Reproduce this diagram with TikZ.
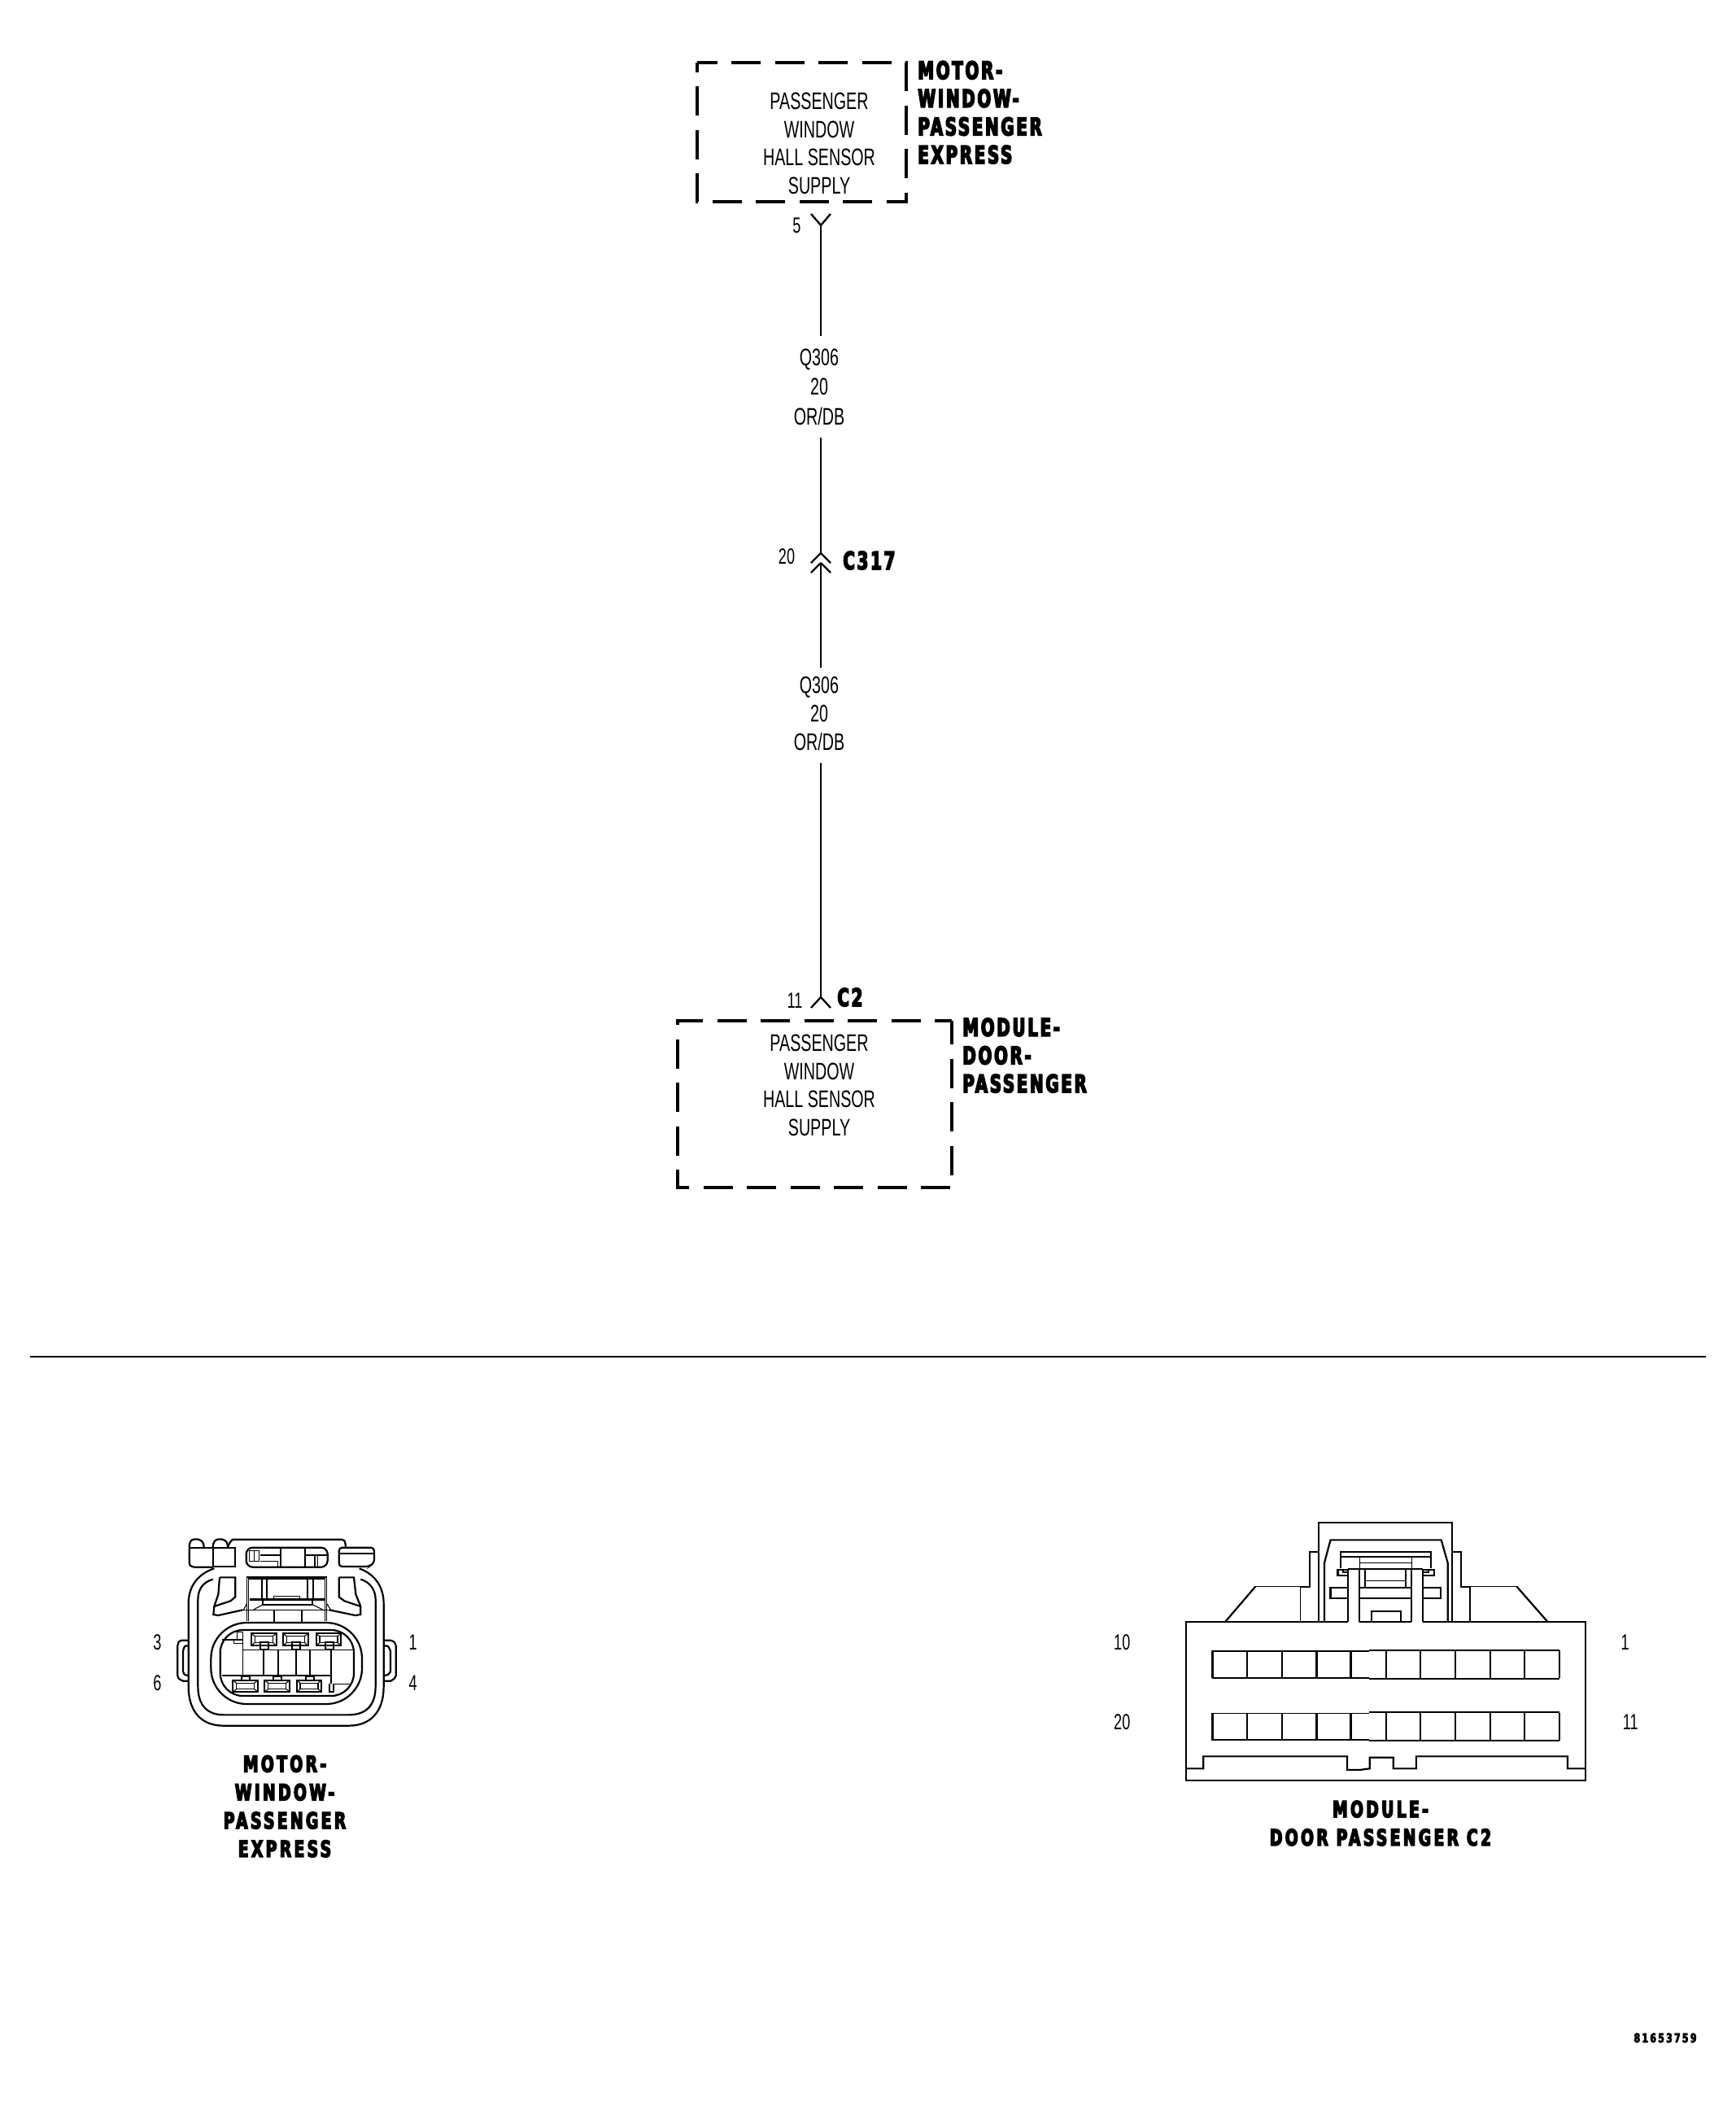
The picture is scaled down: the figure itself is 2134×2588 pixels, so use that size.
\documentclass[tikz,border=0pt]{standalone}
\usepackage{fontspec}
\setmainfont{Liberation Sans}
\newfontfamily\lblfont[FakeStretch=0.67]{Liberation Sans}
\newfontfamily\bldfont[FakeStretch=0.66,LetterSpace=9,FakeBold=5]{DejaVu Sans Bold}
\newfontfamily\ttlfont[FakeStretch=0.68,LetterSpace=12,FakeBold=5]{DejaVu Sans Bold}
\newfontfamily\numfont[FakeStretch=0.72,LetterSpace=15,FakeBold=5]{DejaVu Sans Bold}
\tikzset{
  wire/.style={line width=1.15pt},
  boxdash/.style={line width=1.8pt,dash pattern=on 18pt off 8.75pt},
  lbl/.style={inner sep=0pt,font=\lblfont\fontsize{14.7}{17.25}\selectfont,align=center},
  pin/.style={inner sep=0pt,font=\lblfont\fontsize{13.5}{16}\selectfont},
  bld/.style={inner sep=0pt,font=\bldfont\fontsize{15}{17.3}\selectfont},
  ttl/.style={inner sep=0pt,font=\ttlfont\fontsize{13.8}{17.4}\selectfont,align=center},
  tn/.style={line width=0.55pt},
  geo/.style={line width=1.1pt},
}
\begin{document}
\begin{tikzpicture}[x=0.5pt,y=-0.5pt]
\fill[white] (0,0) rectangle (2134,2588);
\useasboundingbox (0,0) rectangle (2134,2588);

% ---------- upper box
\coordinate (ua) at (857,77);\coordinate (ub) at (1114,77);\coordinate (uc) at (1114,248);\coordinate (ud) at (857,248);
\draw[boxdash,dash phase=5.75pt] (ua) -- (ub) -- (uc) -- (ud) -- (ua);
\node[lbl,anchor=base] (utext) at (1007,238) {PASSENGER\\WINDOW\\HALL SENSOR\\SUPPLY};
\node[bld,anchor=base west,align=left] (ulabel) at (1128,201) {MOTOR-\\WINDOW-\\PASSENGER\\EXPRESS};

% ---------- wires and connectors
\coordinate (p5) at (1009,277);\coordinate (w1e) at (1009,413);
\coordinate (w2s) at (1009,538);\coordinate (c317a) at (1009,680);
\coordinate (c317b) at (1009,692);\coordinate (w3e) at (1009,821);
\coordinate (w4s) at (1009,938);\coordinate (c2p) at (1009,1226);
\draw[wire] (p5) -- (w1e);
\draw[wire] (p5) -- ++(-12,-14);
\draw[wire] (p5) -- ++(12,-14);
\draw[wire] (w2s) -- (c317a);
\draw[wire] (c317a) -- ++(-12,12);
\draw[wire] (c317a) -- ++(12,12);
\draw[wire] (c317b) -- (w3e);
\draw[wire] (c317b) -- ++(-12,12);
\draw[wire] (c317b) -- ++(12,12);
\draw[wire] (w4s) -- (c2p);
\draw[wire] (c2p) -- ++(-12,13);
\draw[wire] (c2p) -- ++(12,13);

\node[pin,anchor=base] (n5) at (979.5,286) {5};
\node[pin,anchor=base] (n20) at (967,693) {20};
\node[pin,anchor=base] (n11) at (977,1239) {11};
\node[bld,anchor=base west] (nc317) at (1036,700) {C317};
\node[bld,anchor=base west] (nc2) at (1029,1237) {C2};
\node[lbl,anchor=base,font=\lblfont\fontsize{14.7}{18.2}\selectfont] (wa) at (1007,522) {Q306\\20\\OR/DB};
\node[lbl,anchor=base,font=\lblfont\fontsize{14.7}{17.5}\selectfont] (wb) at (1007,922) {Q306\\20\\OR/DB};

% ---------- lower box
\coordinate (la) at (833,1255);\coordinate (lb) at (1170,1255);\coordinate (lc) at (1170,1460);\coordinate (ld) at (833,1460);
\draw[boxdash,line width=2.2pt,dash phase=3.5pt] (lb) -- (lc) -- (ld) -- (la) -- (lb);
\node[lbl,anchor=base] (ltext) at (1007,1396) {PASSENGER\\WINDOW\\HALL SENSOR\\SUPPLY};
\node[bld,anchor=base west,align=left] (llabel) at (1183,1343) {MODULE-\\DOOR-\\PASSENGER};

% ---------- divider
\coordinate (da) at (37,1668);\coordinate (db) at (2097,1668);
\draw[line width=1pt] (da) -- (db);

% ---------- connector 1 (coordinates of a 3x crop)
\begin{scope}[shift={(160,1860)},x=0.16667pt,y=-0.16667pt]
 % body
 \draw[geo] (310,205) .. controls (250,225) and (215,270) .. (215,335) -- (215,640) .. controls (215,730) and (260,785) .. (345,785) -- (805,785) .. controls (890,785) and (935,730) .. (935,640) -- (935,335) .. controls (935,270) and (900,225) .. (845,205);
 \draw[geo] (305,245) .. controls (270,255) and (250,280) .. (250,320) -- (250,640) .. controls (250,710) and (285,745) .. (345,745) -- (805,745) .. controls (870,745) and (905,710) .. (905,640) -- (905,320) .. controls (905,285) and (885,255) .. (850,245);
 \draw[geo,rounded corners=22pt] (298,405) rectangle (855,705);
 \draw[geo,rounded corners=14pt] (332,432) rectangle (825,675);
 % side tabs
 \draw[geo] (215,470) -- (190,470) .. controls (178,475) .. (175,490) -- (175,600) .. controls (178,612) .. (195,620) -- (215,620);
 \draw[geo] (215,490) .. controls (200,490) .. (195,510) -- (195,585) .. controls (200,598) .. (215,600);
 \draw[geo] (935,470) -- (960,470) .. controls (975,475) .. (980,490) -- (980,600) .. controls (975,612) .. (960,620) -- (935,620);
 \draw[geo] (935,490) .. controls (952,490) .. (960,510) -- (960,585) .. controls (952,598) .. (935,600);
 % top pieces
 \draw[geo] (218,130) -- (305,130);
 \draw[geo] (218,130) .. controls (218,105) and (225,97) .. (240,97) .. controls (262,97) and (272,105) .. (272,130);
 \draw[geo] (218,130) -- (218,185) .. controls (220,195) .. (235,200) -- (305,200);
 \draw[geo] (305,130) -- (388,130) -- (388,198) -- (305,198) -- cycle;
 \draw[geo] (305,130) .. controls (305,105) and (315,97) .. (328,97) .. controls (350,97) and (360,105) .. (360,125);
 \draw[geo] (360,125) .. controls (370,105) .. (378,98) -- (780,98) .. controls (792,102) .. (795,125);
 \draw[geo,rounded corners=4pt] (428,128) rectangle (728,200);
 \draw[geo] (555,133) -- (555,197); \draw[geo] (645,133) -- (645,197);
 \draw[tn] (440,140) rectangle (475,178); \draw[tn] (458,140) -- (458,178);
 \draw[geo] (480,155) -- (555,155); \draw[tn] (480,178) -- (545,178) -- (545,197);
 \draw[geo] (645,155) -- (725,155); \draw[geo] (682,155) -- (682,197); \draw[tn] (692,155) -- (692,197);
 \draw[geo,rounded corners=2pt] (770,128) -- (900,128) -- (900,185) -- (880,198) -- (770,198) -- cycle;
 \draw[geo] (770,150) -- (900,150);
 % side notches
 \draw[geo] (330,238) -- (388,238) -- (388,310) -- (370,325) -- (310,345) -- (307,375) -- (325,378) -- (415,358);
 \draw[geo] (330,238) -- (325,300) -- (310,345);
 \draw[geo] (770,238) -- (825,238) -- (832,300) -- (850,345) -- (850,375) -- (830,378) -- (735,358);
 \draw[geo] (770,238) -- (770,310) -- (790,325) -- (850,345);
 % centre latch
 \draw[tn] (430,400) -- (430,237) -- (725,237) -- (725,400);
 \draw[tn] (437,400) -- (437,243) -- (718,243) -- (718,400);
 \foreach \vx in {487,503,655,675} \draw[geo] (\vx,245) -- (\vx,322);
 \draw[tn] (530,320) -- (530,308) -- (625,308) -- (625,320);
 \draw[line width=1.5pt] (440,320) -- (718,320);
 \draw[geo] (490,325) -- (490,338) -- (672,338) -- (672,325);
 \draw[tn] (455,357) -- (490,338); \draw[tn] (672,338) -- (710,357);
 \draw[tn] (415,358) -- (740,358);
 \draw[tn] (418,358) -- (430,335); \draw[tn] (740,358) -- (725,335);
 \draw[geo] (530,358) -- (530,402); \draw[geo] (632,358) -- (632,402);
 % upper terminals
 \foreach \cx in {493,610,732}{
  \draw[geo] (\cx-46,445) rectangle (\cx+46,490);
  \draw[tn] (\cx-33,455) rectangle (\cx+33,478);
  \draw[tn] (\cx-46,445) -- (\cx-33,455); \draw[tn] (\cx+46,445) -- (\cx+33,455);
  \draw[tn] (\cx-46,490) -- (\cx-33,478); \draw[tn] (\cx+46,490) -- (\cx+33,478);
  \draw[geo] (\cx-13,478) rectangle (\cx+17,505);
  \draw[tn] (\cx-13,490) -- (\cx+17,490);
 }
 % lower terminals
 \foreach \cx in {425,542,660}{
  \draw[geo] (\cx-46,617) rectangle (\cx+46,660);
  \draw[tn] (\cx-33,628) rectangle (\cx+33,650);
  \draw[tn] (\cx-46,617) -- (\cx-33,628); \draw[tn] (\cx+46,617) -- (\cx+33,628);
  \draw[tn] (\cx-46,660) -- (\cx-33,650); \draw[tn] (\cx+46,660) -- (\cx+33,650);
  \draw[geo] (\cx-13,602) rectangle (\cx+17,617);
 }
 % inner web
 \draw[tn] (395,440) rectangle (415,468);
 \draw[tn] (340,468) -- (395,468);
 \draw[tn] (382,468) -- (382,482) -- (415,482);
 \draw[tn] (415,468) -- (415,600);
 \draw[tn] (415,505) -- (825,505);
 \draw[tn] (338,600) -- (745,600);
 \draw[line width=1.2pt] (480,600) -- (680,600);
 \foreach \vx in {493,547,612,662} \draw[geo] (\vx,505) -- (\vx,598);
 \draw[geo] (742,505) -- (742,630);
 \draw[tn] (735,630) -- (735,660) -- (750,660) -- (750,632) -- (815,632);
 % pin labels
 \node[pin,anchor=base] (a3) at (100,505) {3};
 \node[pin,anchor=base] (a6) at (100,655) {6};
 \node[pin,anchor=base] (a1) at (1043,505) {1};
 \node[pin,anchor=base] (a4) at (1043,655) {4};
\end{scope}
\node[ttl,anchor=base] (title1) at (350,2283) {MOTOR-\\WINDOW-\\PASSENGER\\EXPRESS};

% ---------- connector 2
\begin{scope}[shift={(1340,1850)},x=0.2232pt,y=-0.16667pt]
 \draw[geo] (630,432) -- (265,432) -- (265,1017) -- (1365,1017) -- (1365,432) -- (997,432);
 \draw[line width=1.2pt] (630,432) -- (710,432);
 \draw[line width=1.2pt] (742,432) -- (885,432);
 \draw[line width=1.2pt] (917,432) -- (997,432);
 \draw[geo] (630,432) -- (630,65) -- (997,65) -- (997,432);
 \draw[geo] (645,432) -- (645,215) -- (662,130) -- (967,130) -- (985,215) -- (985,432);
 \draw[geo] (630,173) -- (605,173) -- (605,302) -- (580,302);
 \draw[tn] (580,302) -- (580,432);
 \draw[tn] (580,302) -- (455,302);
 \draw[geo] (455,302) -- (372,432);
 \draw[geo] (997,173) -- (1021,173) -- (1021,302) -- (1046,302);
 \draw[tn] (1046,302) -- (1046,432);
 \draw[tn] (1046,302) -- (1175,302);
 \draw[geo] (1175,302) -- (1260,432);
 % latch
 \draw[geo] (690,235) -- (690,173) -- (938,173) -- (938,235);
 \draw[geo] (690,193) -- (938,193);
 \draw[tn] (742,195) -- (742,235); \draw[tn] (885,195) -- (885,235);
 \draw[tn] (742,215) -- (885,215);
 \draw[line width=1.2pt] (710,237) -- (917,237);
 \foreach \vx in {710,742,885,917} \draw[geo] (\vx,237) -- (\vx,432);
 \draw[geo] (710,240) -- (682,240) -- (682,262) -- (710,262);
 \draw[geo] (696,240) -- (696,250) -- (710,250);
 \draw[geo] (917,240) -- (948,240) -- (948,262) -- (917,262);
 \draw[geo] (932,240) -- (932,250) -- (917,250);
 \draw[geo] (758,240) -- (758,305); \draw[geo] (870,240) -- (870,305);
 \draw[tn] (758,280) -- (870,280);
 \draw[geo] (742,305) -- (885,305); \draw[geo] (742,345) -- (885,345);
 \draw[geo] (710,305) -- (662,305) -- (662,345) -- (710,345);
 \draw[geo] (917,305) -- (965,305) -- (965,345) -- (917,345);
 \draw[geo] (775,432) -- (775,392) -- (855,392) -- (855,432);
 % cavity rows
 \foreach \dy in {0,230}{
  \draw[tn] (337,540+\dy) -- (768,540+\dy);
  \draw[geo] (337,638+\dy) -- (768,638+\dy);
  \draw[geo] (768,536+\dy) -- (1292,536+\dy);
  \draw[geo] (768,641+\dy) -- (1292,641+\dy);
  \foreach \vx in {337,432,528,624,718,815,910,1006,1102,1196,1292}
    \draw[geo] (\vx,538+\dy) -- (\vx,640+\dy);
 }
 % lower key
 \draw[geo] (265,973) -- (312,973) -- (312,928) -- (708,928) -- (708,978) -- (742,978) -- (770,973) -- (770,932) -- (835,932) -- (835,973) -- (898,973) -- (898,928) -- (1315,928) -- (1315,973) -- (1365,973);
 % pin labels
 \node[pin,anchor=base] (b10) at (88,535) {10};
 \node[pin,anchor=base] (b20) at (88,830) {20};
 \node[pin,anchor=base] (b1) at (1473,535) {1};
 \node[pin,anchor=base] (b11) at (1488,830) {11};
\end{scope}
\node[ttl,anchor=base] (title2) at (1697,2269) {MODULE-\\DOOR PASSENGER C2};

% ---------- figure number
\node[inner sep=0pt,anchor=base,font=\numfont\fontsize{7.6}{9}\selectfont] (figno) at (2047,2511) {81653759};
\end{tikzpicture}
\end{document}
